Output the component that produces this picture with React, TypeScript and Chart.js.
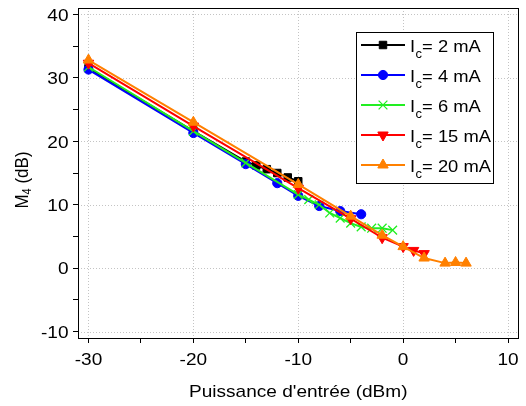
import React, { useEffect, useRef } from 'react';
import { Chart, registerables } from 'chart.js';
import { drawPoint } from 'chart.js/helpers';
Chart.register(...registerables);

// axis ticks
const xTickValues = [-30, -25, -20, -15, -10, -5, 0, 5, 10];
const yTickValues = [-10, -5, 0, 5, 10, 15, 20, 25, 30, 35, 40];
const xMajor = [-30, -20, -10, 0, 10];
const yMajor = [-10, 0, 10, 20, 30, 40];

// series
const x2mA = [-30, -20, -15, -14, -13, -12, -11, -10];
const y2mA = [31.5, 21.6, 16.8, 16.2, 15.6, 15.0, 14.3, 13.7];
const x4mA = [-30, -20, -15, -12, -10, -8, -6, -4];
const y4mA = [31.3, 21.3, 16.4, 13.4, 11.4, 9.8, 9.0, 8.5];
const x6mA = [-30, -20, -15, -10, -9, -8, -7, -6, -5, -4, -3, -2, -1];
const y6mA = [31.7, 21.6, 16.6, 11.6, 10.8, 10.0, 8.7, 7.9, 7.1, 6.5, 6.3, 6.3, 6.0];
const x15mA = [-30, -20, -10, -5, -2, 0, 1, 2];
const y15mA = [32.3, 22.4, 12.6, 7.8, 4.8, 3.4, 2.8, 2.3];
const x20mA = [-30, -20, -10, -5, -2, 0, 2, 4, 5, 6];
const y20mA = [32.8, 23.0, 13.2, 8.2, 5.2, 3.4, 1.6, 0.8, 0.9, 0.8];

const seriesLabels = ['= 2 mA', '= 4 mA', '= 6 mA', '= 15 mA', '= 20 mA'];
const xTitle = "Puissance d'entrée (dBm)";

const FONT = "'Liberation Sans', Arial, sans-serif";
const SX = 1.12; // horizontal stretch of the text in the reference
const SXL = 1.08; // legend text stretch

const mk = (xs: number[], ys: number[]) => xs.map((x, i) => ({ x, y: ys[i] }));

const styles = [
  { color: '#000000', pointStyle: 'rect', radius: 5.3, rotation: 0, pbw: 1 },
  { color: '#0000ff', pointStyle: 'circle', radius: 4.6, rotation: 0, pbw: 1 },
  { color: '#22ee22', pointStyle: 'crossRot', radius: 6.2, rotation: 0, pbw: 1.3 },
  { color: '#ff0000', pointStyle: 'triangle', radius: 6, rotation: 180, pbw: 1 },
  { color: '#ff8000', pointStyle: 'triangle', radius: 6, rotation: 0, pbw: 1 },
];

function txt(ctx: any, s: string, x: number, y: number, align: string, size: number, sx = SX) {
  ctx.save();
  ctx.translate(x, y);
  ctx.scale(sx, 1);
  ctx.font = `${size}px ${FONT}`;
  ctx.textAlign = align;
  ctx.textBaseline = 'alphabetic';
  ctx.fillText(s, 0, 0);
  ctx.restore();
}

const decorPlugin = {
  id: 'decor',
  beforeDatasetsDraw(chart: any) {
    const { ctx, chartArea: a, scales } = chart;
    const xs = scales.x, ys = scales.y;
    ctx.save();
    ctx.strokeStyle = '#c4c4c4';
    ctx.lineWidth = 1;
    ctx.setLineDash([1, 2]);
    for (const v of xMajor) {
      const p = Math.round(xs.getPixelForValue(v)) + 0.5;
      ctx.beginPath(); ctx.moveTo(p, a.top); ctx.lineTo(p, a.bottom); ctx.stroke();
    }
    for (const v of yMajor) {
      const p = Math.round(ys.getPixelForValue(v)) + 0.5;
      ctx.beginPath(); ctx.moveTo(a.left, p); ctx.lineTo(a.right, p); ctx.stroke();
    }
    ctx.setLineDash([]);
    ctx.strokeStyle = '#000';
    ctx.lineWidth = 1;
    ctx.strokeRect(Math.round(a.left) + 0.5, Math.round(a.top) + 0.5, Math.round(a.right - a.left) - 1, Math.round(a.bottom - a.top));
    ctx.restore();
  },
  afterDraw(chart: any) {
    const { ctx, chartArea: a, scales } = chart;
    ctx.save();
    ctx.fillStyle = '#000';
    // tick labels
    for (const v of xMajor) txt(ctx, String(v), scales.x.getPixelForValue(v), 365, 'center', 17);
    for (const v of yMajor) txt(ctx, String(v), 68.5, scales.y.getPixelForValue(v) + 6.3, 'right', 17);
    // x title
    txt(ctx, xTitle, (a.left + a.right) / 2, 397, 'center', 17);
    // y title with subscript
    ctx.save();
    ctx.translate(21, 180);
    ctx.rotate(-Math.PI / 2);
    ctx.scale(1, SX);
    ctx.textAlign = 'left';
    ctx.textBaseline = 'alphabetic';
    const big = `17px ${FONT}`, small = `11px ${FONT}`;
    ctx.font = big; const wM = ctx.measureText('M').width;
    ctx.font = small; const w4 = ctx.measureText('4').width;
    ctx.font = big; const wR = ctx.measureText(' (dB)').width;
    let sx = -(wM + w4 + wR) / 2;
    ctx.font = big; ctx.fillText('M', sx, 6); sx += wM;
    ctx.font = small; ctx.fillText('4', sx, 9); sx += w4;
    ctx.font = big; ctx.fillText(' (dB)', sx, 6);
    ctx.restore();

    // legend
    const bx = 356, by = 32, bw = 137, bh = 151;
    ctx.fillStyle = '#fff';
    ctx.fillRect(bx, by, bw, bh);
    ctx.strokeStyle = '#000';
    ctx.lineWidth = 1;
    ctx.strokeRect(bx + 0.5, by + 0.5, bw, bh);
    styles.forEach((s, i) => {
      const cy = 45 + 30 * i;
      ctx.strokeStyle = s.color;
      ctx.fillStyle = s.color;
      ctx.lineWidth = 2;
      ctx.beginPath(); ctx.moveTo(361, cy); ctx.lineTo(405, cy); ctx.stroke();
      ctx.lineWidth = s.pbw;
      drawPoint(ctx, { pointStyle: s.pointStyle as any, radius: s.radius, rotation: s.rotation, borderWidth: s.pbw }, 383, cy);
      ctx.fillStyle = '#000';
      const base = cy + 7;
      let tx = 410;
      txt(ctx, 'I', tx, base, 'left', 17, SXL);
      ctx.font = `17px ${FONT}`; tx += ctx.measureText('I').width * SXL + 0.5;
      txt(ctx, 'c', tx, base + 6, 'left', 12, SXL);
      ctx.font = `12px ${FONT}`; tx += ctx.measureText('c').width * SXL;
      txt(ctx, seriesLabels[i], tx, base, 'left', 17, SXL);
    });
    ctx.restore();
  },
};

export default function App() {
  const ref = useRef<HTMLCanvasElement>(null);
  useEffect(() => {
    document.body.style.margin = '0';
    const all = [mk(x2mA, y2mA), mk(x4mA, y4mA), mk(x6mA, y6mA), mk(x15mA, y15mA), mk(x20mA, y20mA)];
    const chart = new Chart(ref.current as HTMLCanvasElement, {
      type: 'scatter',
      data: {
        datasets: all.map((d, i) => ({
          label: seriesLabels[i],
          data: d,
          showLine: true,
          borderColor: styles[i].color,
          backgroundColor: styles[i].color,
          borderWidth: 2,
          pointStyle: styles[i].pointStyle as any,
          pointRadius: styles[i].radius,
          pointRotation: styles[i].rotation,
          pointBorderWidth: styles[i].pbw,
          pointBackgroundColor: styles[i].color,
          pointBorderColor: styles[i].color,
          tension: 0,
          order: 5 - i,
        })),
      },
      options: {
        animation: false,
        responsive: false,
        devicePixelRatio: 1,
        layout: { padding: { top: 8, right: 2, left: 0, bottom: 0 } },
        plugins: { legend: { display: false }, tooltip: { enabled: false } },
        scales: {
          x: {
            type: 'linear',
            min: -31,
            max: 11,
            afterBuildTicks: (s: any) => { s.ticks = xTickValues.map((v) => ({ value: v })); },
            afterFit: (s: any) => { s.height = 68; s.paddingLeft = 0; s.paddingRight = 0; },
            ticks: { autoSkip: false, maxRotation: 0, callback: () => '' },
            grid: { drawOnChartArea: false, drawTicks: true, tickLength: 5, tickColor: '#000', color: '#000', tickWidth: 1 },
            border: { display: false },
          },
          y: {
            type: 'linear',
            min: -11,
            max: 41,
            afterBuildTicks: (s: any) => { s.ticks = yTickValues.map((v) => ({ value: v })); },
            afterFit: (s: any) => { s.width = 78; s.paddingTop = 0; s.paddingBottom = 0; },
            ticks: { autoSkip: false, callback: () => '' },
            grid: { drawOnChartArea: false, drawTicks: true, tickLength: 5, tickColor: '#000', color: '#000', tickWidth: 1 },
            border: { display: false },
          },
        },
      },
      plugins: [decorPlugin],
    } as any);
    return () => chart.destroy();
  }, []);
  return <canvas ref={ref} width={526} height={406} style={{ display: 'block', width: 526, height: 406 }} />;
}
